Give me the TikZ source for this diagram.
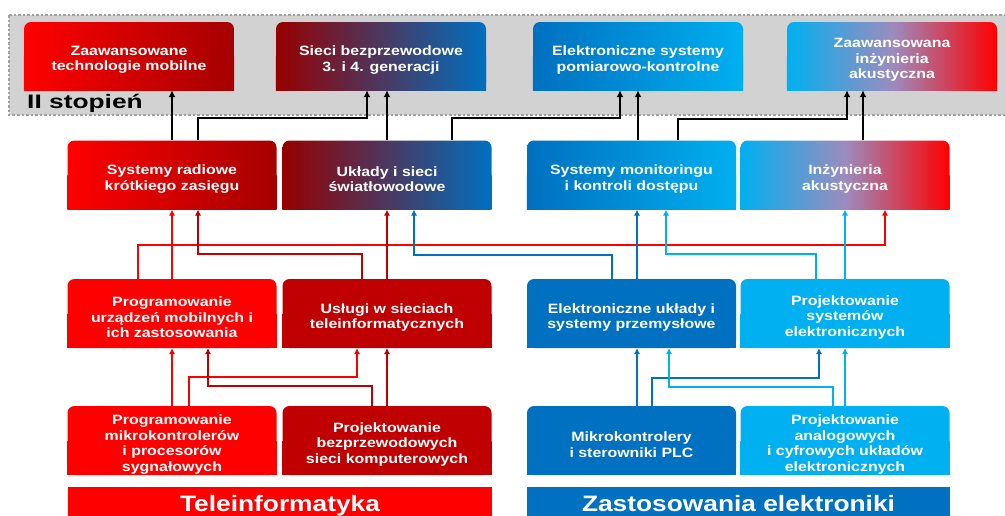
\documentclass[tikz,border=0pt]{standalone}
\usepackage{fontspec}
\setmainfont{Liberation Sans}[FakeStretch=1.18]
\newfontfamily\stopfont{Liberation Sans}[FakeStretch=1.35]
\usetikzlibrary{arrows.meta}
\usetikzlibrary{backgrounds}

\definecolor{tred}{RGB}{255,0,0}
\definecolor{tdred}{RGB}{192,0,0}
\definecolor{tdred2}{RGB}{165,0,0}
\definecolor{tmaroon}{RGB}{150,0,0}
\definecolor{tblue}{RGB}{0,112,192}
\definecolor{tlblue}{RGB}{0,176,240}
\definecolor{tlav}{RGB}{155,140,190}
\definecolor{bandgray}{RGB}{210,210,210}
\definecolor{bandline}{RGB}{160,160,160}

\tikzset{
  box/.style={rounded corners=7pt, minimum width=209pt, minimum height=69pt},
  topbox/.style={box, minimum width=210pt, minimum height=68pt},
  boxtext/.style={align=center, text=white, inner sep=0pt, yshift=-4pt,
    font=\fontsize{13.5}{15.5}\selectfont\bfseries},
  bar/.style={minimum width=424pt, minimum height=36.5pt, text=white, text height=16.5pt,
    text depth=5pt, font=\fontsize{22.3}{26}\selectfont\bfseries},
  band/.style={fill=bandgray, draw=bandline, line width=1.6pt, dash pattern=on 2.5pt off 2pt},
  gRD/.style={left color=tred, right color=tdred2},
  gRB/.style={left color=tmaroon, right color=tblue},
  gBL/.style={left color=tblue, right color=tlblue},
  gLR/.style={left color=tlblue, right color=tred, middle color=tlav},
  fR/.style={fill=tred},
  fD/.style={fill=tdred},
  fB/.style={fill=tblue},
  fL/.style={fill=tlblue},
  blk/.style={draw=black, line width=2.2pt, -{Latex[length=7pt,width=7pt]}},
  lnR/.style={draw=tred, line width=2pt, -{Latex[length=6pt,width=6.5pt]}},
  lnD/.style={draw=tdred, line width=2pt, -{Latex[length=6pt,width=6.5pt]}},
  lnB/.style={draw=tblue, line width=2pt, -{Latex[length=6pt,width=6.5pt]}},
  lnL/.style={draw=tlblue, line width=2pt, -{Latex[length=6pt,width=6.5pt]}}
}

\begin{document}
\begin{tikzpicture}[x=1pt, y=-1pt]
		\useasboundingbox (0,0) rectangle (1005,515);
		
		% II stopien
		\node[topbox, gRD, label={[boxtext]center:Zaawansowane\\technologie mobilne}] at (129,56) (zaawmob) {};
		\node[topbox, gRB, label={[boxtext]center:Sieci bezprzewodowe\\3. i 4. generacji}] at (381,56) (sieci) {};
		\node[topbox, gBL, label={[boxtext]center:Elektroniczne systemy\\pomiarowo-kontrolne}] at (638,56) (pomiar) {};
		\node[topbox, gLR, label={[boxtext]center:Zaawansowana\\inżynieria\\akustyczna}] at (892,56) (akust) {};
		\node[anchor=base west, inner sep=0pt, font=\stopfont\fontsize{19.5}{22}\selectfont\bfseries] at (27,108) (stopien) {II stopień};
		
		\node[box, gRD, label={[boxtext]center:Systemy radiowe\\krótkiego zasięgu}] at (172,175) (radio) {};
		\node[box, gRB, label={[boxtext]center:Układy i sieci\\światłowodowe}] at (387,175) (uklady) {};
		\node[box, gBL, label={[boxtext]center:Systemy monitoringu\\i kontroli dostępu}] at (631.5,175) (monit) {};
		\node[box, gLR, label={[boxtext]center:Inżynieria\\akustyczna}] at (845,175) (inz) {};
		
		\node[box, fR, label={[boxtext]center:Programowanie\\urządzeń mobilnych i\\ich zastosowania}] at (172,313.5) (progurz) {};
		\node[box, fD, label={[boxtext]center:Usługi w sieciach\\teleinformatycznych}] at (387,313.5) (uslugi) {};
		\node[box, fB, label={[boxtext]center:Elektroniczne układy i\\systemy przemysłowe}] at (631.5,313.5) (elukl) {};
		\node[box, fL, label={[boxtext]center:Projektowanie\\systemów\\elektronicznych}] at (845,313.5) (projsys) {};
		
		\node[box, fR, label={[boxtext]center:Programowanie\\mikrokontrolerów\\i procesorów\\sygnałowych}] at (172,440.5) (progmk) {};
		\node[box, fD, label={[boxtext]center:Projektowanie\\bezprzewodowych\\sieci komputerowych}] at (387,440.5) (projbw) {};
		\node[box, fB, label={[boxtext]center:Mikrokontrolery\\i sterowniki PLC}] at (631.5,440.5) (mikro) {};
		\node[box, fL, label={[boxtext]center:Projektowanie\\analogowych\\i cyfrowych układów\\elektronicznych}] at (845,440.5) (projan) {};
		
		\node[bar, fR] at (280,505.25) (tele) {Teleinformatyka};
		\node[bar, fB, minimum width=423pt] at (738.5,505.25) (zastel) {Zastosowania elektroniki};
		
		\begin{pgfonlayer}{background}
		\draw[band] (9,15) rectangle (1015,115);
		\foreach \n/\s in {zaawmob/gRD, sieci/gRB, pomiar/gBL, akust/gLR,
			radio/gRD, uklady/gRB, monit/gBL, inz/gLR,
			progurz/fR, uslugi/fD, elukl/fB, projsys/fL,
			progmk/fR, projbw/fD, mikro/fB, projan/fL}
			\path[\s] (\n.south west) rectangle (\n.east);
		\end{pgfonlayer}
		
		% to II stopien
		\draw[blk] (radio.north) -- (radio.north |- zaawmob.south);
		\draw[blk] ([xshift=26]radio.north) -- ++(0,-22) -| ([xshift=-14]sieci.south);
		\draw[blk] (uklady.north) -- (uklady.north |- sieci.south);
		\draw[blk] ([xshift=65]uklady.north) -- ++(0,-22) -| ([xshift=-18]pomiar.south);
		\draw[blk] ([xshift=6.5]monit.north) -- ([xshift=6.5]monit.north |- pomiar.south);
		\draw[blk] ([xshift=46.5]monit.north) -- ++(0,-21) -| ([xshift=-45]akust.south);
		\draw[blk] ([xshift=18]inz.north) -- ([xshift=18]inz.north |- akust.south);
		
		% second row to first row
		\draw[lnR] (progurz.north) -- (radio.south);
		\draw[lnR] ([xshift=-34]progurz.north) -- ++(0,-34) -| ([xshift=40]inz.south);
		\draw[lnD] ([xshift=-25]uslugi.north) -- ++(0,-25) -| ([xshift=26]radio.south);
		\draw[lnD] (uslugi.north) -- (uklady.south);
		\draw[lnB] ([xshift=-19.5]elukl.north) -- ++(0,-24) -| ([xshift=27]uklady.south);
		\draw[lnB] ([xshift=5.5]elukl.north) -- ([xshift=5.5]monit.south);
		\draw[lnL] ([xshift=-29]projsys.north) -- ++(0,-25) -| ([xshift=34.5]monit.south);
		\draw[lnL] (projsys.north) -- (inz.south);
		
		% third row to second row
		\draw[lnR] (progmk.north) -- (progurz.south);
		\draw[lnR] ([xshift=17]progmk.north) -- ++(0,-29) -| ([xshift=-30]uslugi.south);
		\draw[lnD] ([xshift=-15]projbw.north) -- ++(0,-20) -| ([xshift=36]progurz.south);
		\draw[lnD] (projbw.north) -- (uslugi.south);
		\draw[lnB] ([xshift=5.5]mikro.north) -- ([xshift=5.5]elukl.south);
		\draw[lnB] ([xshift=20.5]mikro.north) -- ++(0,-28) -| ([xshift=-26]projsys.south);
		\draw[lnL] ([xshift=-12]projan.north) -- ++(0,-19) -| ([xshift=37.5]elukl.south);
		\draw[lnL] (projan.north) -- (projsys.south);
		
\end{tikzpicture}
\end{document}
